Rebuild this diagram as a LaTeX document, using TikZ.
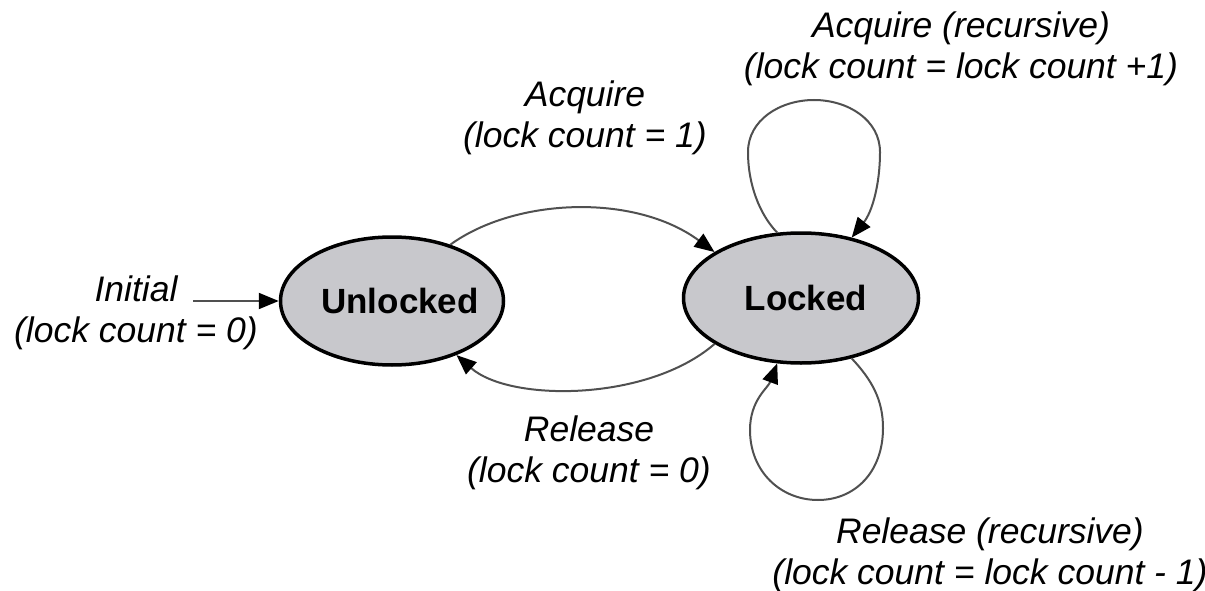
\documentclass[tikz,border=0pt]{standalone}
\usepackage{fontspec}
\setmainfont{Liberation Sans}
\usetikzlibrary{arrows.meta,shapes.geometric}
\definecolor{statefill}{RGB}{200,200,204}
\definecolor{linegray}{RGB}{80,80,80}
\begin{document}
\begin{tikzpicture}[x=1pt,y=-1pt,
  state/.style={ellipse, draw=black, line width=3.5pt, fill=statefill, inner sep=0pt,
    font=\fontsize{35}{41}\selectfont\bfseries},
  lbl/.style={align=center, inner sep=0pt, font=\fontsize{35.5}{41}\selectfont\itshape},
  trans/.style={draw=linegray, line width=2pt,
    -{Triangle[length=20pt,width=16pt,color=black]}}]
% page frame
\clip (0,0) rectangle (1205,591);

% states (names set a little right of the centre)
\node[state, minimum width=223pt, minimum height=128pt] (U) at (392,301)
  {\makebox[100pt]{\hspace*{16pt}Unlocked}};
\node[state, minimum width=235pt, minimum height=130pt] (L) at (801,298)
  {\makebox[100pt]{\hspace*{10pt}Locked}};

% transition labels
\node[lbl] (initlbl) at (136,313) {Initial\\(lock count = 0)};
\node[lbl] (acqlbl) at (585,118) {Acquire\\(lock count = 1)};
\node[lbl] (rellbl) at (589,453) {Release\\(lock count = 0)};
\node[lbl] (acqrlbl) at (961,49) {Acquire (recursive)\\(lock count = lock count +1)};
\node[lbl] (relrlbl) at (990,555) {Release (recursive)\\(lock count = lock count - 1)};

% waypoints of the self loops
\coordinate (tlw) at (748,152);
\coordinate (ttop) at (814,100);
\coordinate (tle) at (880,152);
\coordinate (ble) at (883,428);
\coordinate (bbot) at (818,500);
\coordinate (blw) at (750,430);

% transitions
\coordinate (initstart) at (193,301);
\draw[trans] (initstart) -- (U.west);
\draw[trans] (U.44) .. controls +(65,-47) and +(-80,-59) .. (L.152);
\draw[trans] (L.208) .. controls +(-67,58) and +(53,47) .. (U.320);
\draw[trans] (L.110) .. controls (760,215) and (748,185) .. (tlw)
  .. controls (748,120) and (780,100) .. (ttop)
  .. controls (848,100) and (880,120) .. (tle)
  .. controls (880,185) and (872,212) .. (L.50);
\draw[trans] (L.-50) .. controls (872,380) and (883,400) .. (ble)
  .. controls (883,472) and (855,500) .. (bbot)
  .. controls (781,500) and (750,472) .. (blw)
  .. controls (750,400) and (768,388) .. (L.-110);
\end{tikzpicture}
\end{document}
